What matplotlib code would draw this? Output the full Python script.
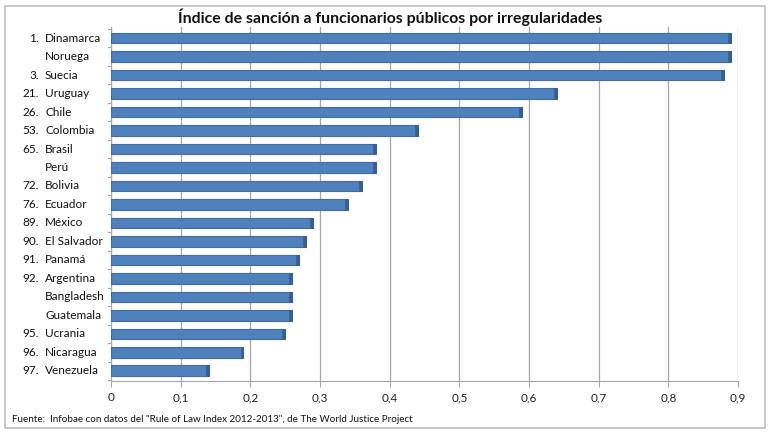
import matplotlib
matplotlib.use("Agg")
import matplotlib.pyplot as plt
from matplotlib.patches import Rectangle
import matplotlib.transforms as mtransforms
import numpy as np

ranks = ["1.", "", "3.", "21.", "26.", "53.", "65.", "", "72.", "76.", "89.", "90.", "91.", "92.", "", "", "95.", "96.", "97."]
countries = ["Dinamarca", "Noruega", "Suecia", "Uruguay", "Chile", "Colombia", "Brasil", "Perú", "Bolivia",
             "Ecuador", "México", "El Salvador", "Panamá", "Argentina", "Bangladesh", "Guatemala", "Ucrania",
             "Nicaragua", "Venezuela"]
values = [0.89, 0.89, 0.88, 0.64, 0.59, 0.44, 0.38, 0.38, 0.36, 0.34, 0.29, 0.28, 0.27, 0.26, 0.26, 0.26,
          0.25, 0.19, 0.14]
xticks = [0, 0.1, 0.2, 0.3, 0.4, 0.5, 0.6, 0.7, 0.8, 0.9]
xtick_labels = ["0", "0,1", "0,2", "0,3", "0,4", "0,5", "0,6", "0,7", "0,8", "0,9"]
title = "Índice de sanción a funcionarios públicos por irregularidades"
source = 'Fuente:  Infobae con datos del "Rule of Law Index 2012-2013", de The World Justice Project'

plt.rcParams['font.family'] = ['Lato', 'DejaVu Sans']

W, H = 770, 433
fig = plt.figure(figsize=(W / 100, H / 100), dpi=100)
fig.patch.set_facecolor('white')

# outer frame
fig.patches.append(Rectangle((5 / W, 5 / H), 760 / W, 422 / H, transform=fig.transFigure,
                             fill=False, ec='#BFBFBF', lw=1.2))

ax = fig.add_axes([111 / W, 1 - 381 / H, 627 / W, 354 / H])
y = np.arange(len(values))
vals = np.array(values)

ax.barh(y, vals, height=0.58, color='#4F81BD', edgecolor='#3F6DA6', linewidth=0.8, zorder=3)
cap = 0.004
ax.barh(y, cap, left=vals - cap, height=0.58, color='#375E8F', edgecolor='#375E8F', linewidth=0.4, zorder=4)

ax.set_xlim(0, 0.9)
ax.set_ylim(len(values) - 0.45, -0.6)
ax.set_xticks(xticks)
ax.set_xticklabels(xtick_labels, fontsize=8.5, color='#222222')
ax.tick_params(axis='x', length=4, color='#A6A6A6', pad=4)
ax.set_yticks([])
ax.grid(axis='x', color='#A6A6A6', lw=0.9, zorder=0)
for s in ['top', 'right']:
    ax.spines[s].set_visible(False)
ax.spines['left'].set_color('#A6A6A6')
ax.spines['bottom'].set_color('#A6A6A6')

# category boundary tick marks on left wall
for b in np.arange(-0.5, len(values), 1.0):
    ax.plot([-0.004, 0], [b, b], color='#A6A6A6', lw=0.8, clip_on=False)

trans = mtransforms.blended_transform_factory(fig.transFigure, ax.transData)
for i, (r, c) in enumerate(zip(ranks, countries)):
    if r:
        fig.text(39 / W, i, r, transform=trans, ha='right', va='center', fontsize=8.5, color='#111111')
    fig.text(45 / W, i, c, transform=trans, ha='left', va='center', fontsize=8.5, color='#111111')

fig.text(390 / W, 1 - 17 / H, title, ha='center', va='center', fontsize=11.4, fontweight='bold', color='#111111')
fig.text(12 / W, 1 - 419 / H, source, ha='left', va='center', fontsize=7.1, color='#111111')

fig.savefig('out.png', dpi=100)
